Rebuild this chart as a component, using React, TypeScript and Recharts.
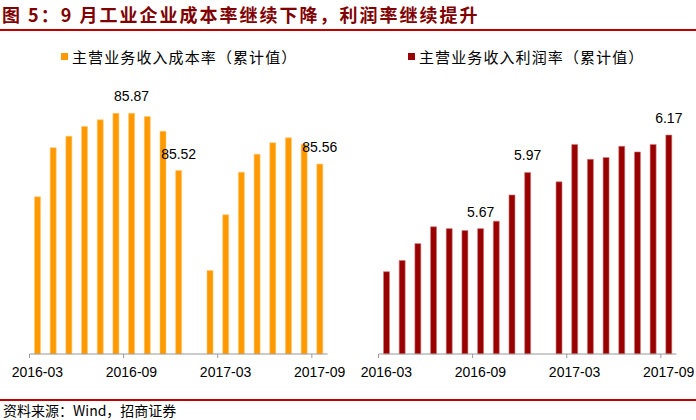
import { Bar, BarChart, LabelList, XAxis, YAxis } from 'recharts';

const months = [
  '2016-03', '2016-04', '2016-05', '2016-06', '2016-07', '2016-08', '2016-09', '2016-10', '2016-11', '2016-12',
  '2017-01', '2017-02', '2017-03', '2017-04', '2017-05', '2017-06', '2017-07', '2017-08', '2017-09',
];

const costRate: (number | null)[] = [
  85.36, 85.66, 85.73, 85.79, 85.83, 85.87, 85.87, 85.85, 85.76, 85.52,
  null, 84.91, 85.25, 85.51, 85.62, 85.69, 85.72, 85.68, 85.56,
];

const profitRate: (number | null)[] = [
  5.44, 5.5, 5.59, 5.68, 5.67, 5.66, 5.67, 5.71, 5.85, 5.97,
  null, 5.92, 6.12, 6.04, 6.05, 6.11, 6.08, 6.12, 6.17,
];

const labelledMonths = ['2016-09', '2016-12', '2017-09'];

const costName = '主营业务收入成本率（累计值）';
const profitName = '主营业务收入利润率（累计值）';

const W = 345;
const H = 420;
const PLOT_W = 298;
const BAND = PLOT_W / months.length;

const tickFont = '"Liberation Sans", Arial, sans-serif';
const cjkFont = '"Noto Sans CJK SC", "Noto Sans", sans-serif';

function MonthTick({ x, y, payload }: any) {
  const left = x - BAND / 2;
  return (
    <g>
      <line x1={left} x2={left} y1={y - 8} y2={y - 4} stroke="#999" />
      <text x={x} y={y + 15} textAnchor="middle" fontFamily={tickFont} fontSize={14} fill="#000">
        {payload.value}
      </text>
    </g>
  );
}

function ValueLabel(props: any) {
  const { x, y, width, value } = props;
  if (value === null || value === undefined) return null;
  return (
    <text
      x={x + width / 2}
      y={y - 17}
      textAnchor="middle"
      dominantBaseline="central"
      fontFamily={tickFont}
      fontSize={14}
      fill="#000"
    >
      {Number(value).toFixed(2)}
    </text>
  );
}

function LegendBox({ color, name, left }: { color: string; name: string; left: number }) {
  return (
    <div
      style={{
        position: 'absolute',
        left,
        top: 45,
        height: 22,
        display: 'flex',
        alignItems: 'center',
        fontFamily: cjkFont,
        fontSize: 15,
        letterSpacing: 1.1,
        color: '#000',
        whiteSpace: 'nowrap',
      }}
    >
      <span style={{ display: 'inline-block', width: 7, height: 7, background: color, marginRight: 4 }} />
      <span>{name}</span>
    </div>
  );
}

function Panel({ values, color, edge, domain }: {
  values: (number | null)[];
  color: string;
  edge: string;
  domain: [number, number];
}) {
  const data = months.map((month, i) => ({
    month,
    value: values[i],
    label: labelledMonths.includes(month) ? values[i] : null,
  }));
  return (
    <BarChart width={W} height={H} data={data} margin={{ top: 92, right: W - 29.5 - PLOT_W, bottom: 36, left: 29.5 }} barSize={6}>
      <XAxis
        dataKey="month"
        interval={5}
        height={30}
        stroke="#999"
        tickLine={false}
        tick={<MonthTick />}
      />
      <YAxis hide domain={domain} />
      <Bar dataKey="value" fill={color} stroke={edge} strokeWidth={0.6} isAnimationActive={false}>
        <LabelList dataKey="label" content={<ValueLabel />} />
      </Bar>
    </BarChart>
  );
}

export default function App() {
  return (
    <div style={{ position: 'absolute', left: 0, top: 0, width: 696, height: 420, background: '#fff', overflow: 'hidden' }}>
      <div
        style={{
          position: 'absolute',
          left: 2,
          top: 3,
          fontFamily: cjkFont,
          fontWeight: 700,
          fontSize: 18,
          letterSpacing: 2,
          color: '#800000',
          whiteSpace: 'nowrap',
          lineHeight: '22px',
        }}
      >
        图 5：9 月工业企业成本率继续下降，利润率继续提升
      </div>
      <div style={{ position: 'absolute', left: 0, top: 29, width: 696, height: 1.5, background: '#C00000' }} />

      <LegendBox color="#FF9900" name={costName} left={61} />
      <LegendBox color="#990000" name={profitName} left={408} />

      <div style={{ position: 'absolute', left: 0, top: 0 }}>
        <Panel values={costRate} color="#FF9900" edge="#FFC870" domain={[84.4, 86.0]} />
      </div>
      <div style={{ position: 'absolute', left: 349, top: 0 }}>
        <Panel values={profitRate} color="#990000" edge="#D08080" domain={[5.0, 6.4]} />
      </div>

      <div style={{ position: 'absolute', left: 0, top: 399, width: 696, height: 1.5, background: '#C00000' }} />
      <div
        style={{
          position: 'absolute',
          left: 3,
          top: 401,
          fontFamily: cjkFont,
          fontSize: 14,
          color: '#000',
          whiteSpace: 'nowrap',
          lineHeight: '18px',
        }}
      >
        资料来源：Wind，招商证券
      </div>
    </div>
  );
}
